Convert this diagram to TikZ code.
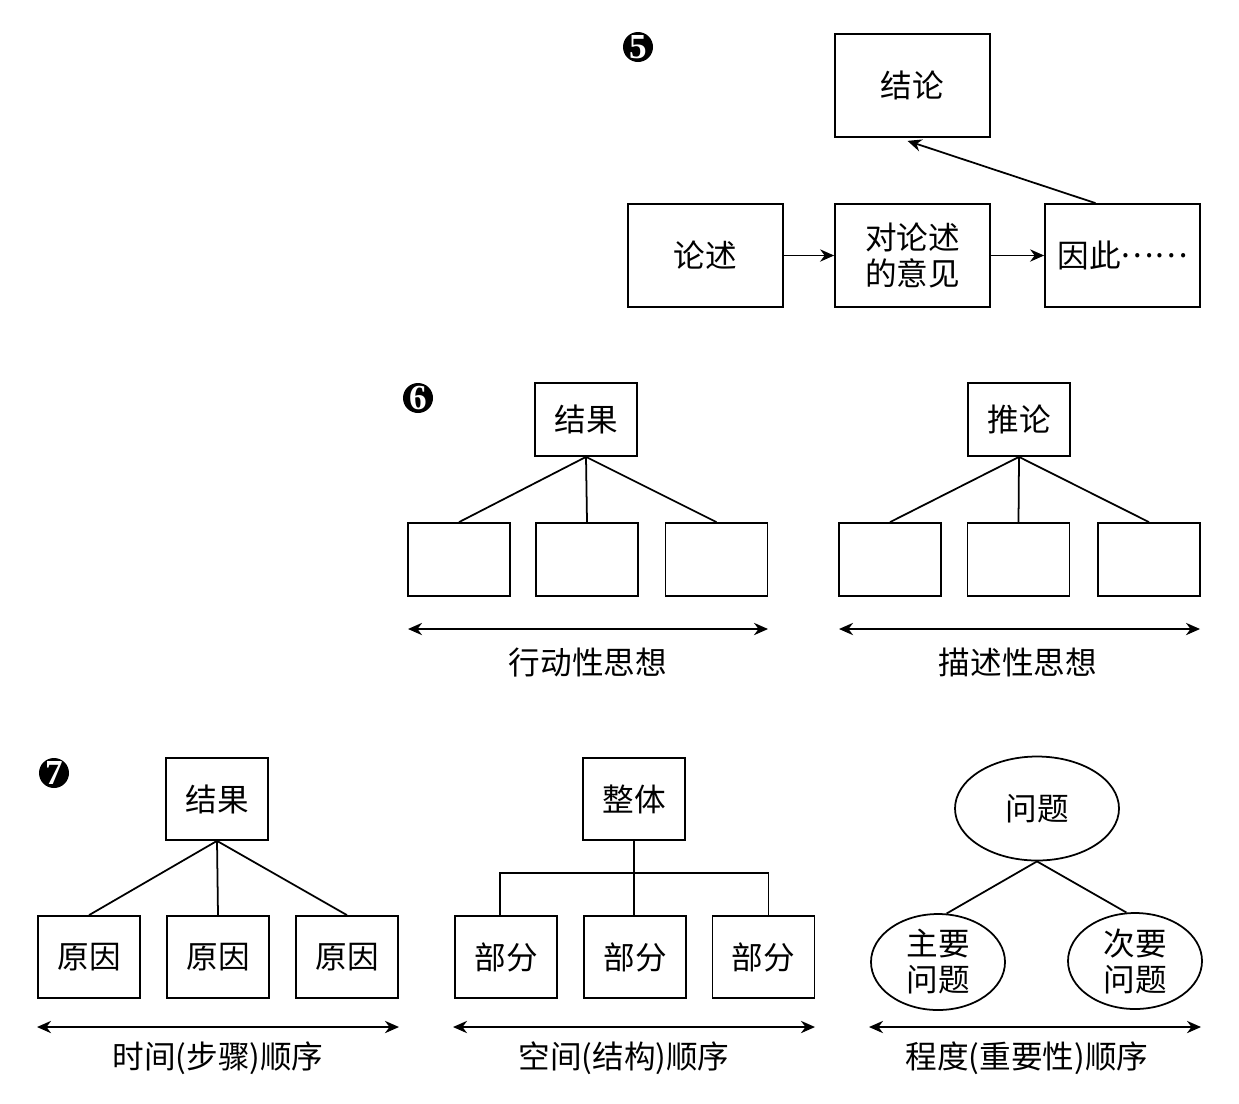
\documentclass[tikz,border=0pt]{standalone}
\usepackage{fontspec}
\newfontfamily\cjk{Noto Sans CJK SC}
\newfontfamily\numfont{Liberation Serif}
\usetikzlibrary{arrows.meta,shapes.geometric,calc}

\begin{document}
\begin{tikzpicture}[
  x=0.02cm, y=-0.02cm,
  line width=1pt,
  box/.style={
    draw, rectangle, inner sep=0pt, align=center,
    minimum width=155*\pxl, minimum height=103*\pxl,
    font=\cjk\fontsize{18}{20.5}\selectfont
  },
  minibox/.style={box, minimum width=102*\pxl, minimum height=73*\pxl},
  tallbox/.style={box, minimum width=102*\pxl, minimum height=82*\pxl},
  bubble/.style={
    draw, ellipse, inner sep=0pt, align=center,
    font=\cjk\fontsize{18}{20.5}\selectfont
  },
  marker/.style={
    circle, fill=black, text=white, inner sep=0pt,
    minimum size=30*\pxl, font=\numfont\bfseries\fontsize{20}{20}\selectfont
  },
  arr/.style={-{Stealth[length=8pt,width=7pt]}},
  darr/.style={{Stealth[length=8pt,width=7pt]}-{Stealth[length=8pt,width=7pt]}},
  lbl/.style={inner sep=0pt, font=\cjk\fontsize{18}{20.5}\selectfont},
]

\def\pxl{0.02cm}
\useasboundingbox (0,0) rectangle (1239,1103);

% 5
\node[marker] (m5) at (638,47) {5};
\node[box] (conclusion) at (912.5,85.5)  {结论};
\node[box] (argument)   at (705.5,255.5) {论述};
\node[box] (opinion)    at (912.5,255.5) {对论述\\的意见};
\node[box] (therefore)  at (1122.5,255.5) {因此\raisebox{0.32em}{……}};

\draw[arr] (argument) -- (opinion);
\draw[arr] (opinion)  -- (therefore);
\draw[arr] ($(therefore.north)+(-27,0)$) -- ($(conclusion.south)+(-5,3)$);

% 6
\node[marker] (m6) at (418,398) {6};
\node[minibox] (result6) at (586,419.5) {结果};
\node[minibox] (act1) at (459,559.5) {};
\node[minibox] (act2) at (587,559.5) {};
\node[minibox] (act3) at (716.5,559.5) {};
\foreach \k in {1,2,3}
  \draw (result6.south) -- (act\k.north);
\coordinate (actL) at (408,629);
\coordinate (actR) at (768,629);
\draw[darr] (actL) -- (actR);
\node[lbl] (actlbl) at (588,662) {行动性思想};

\node[minibox] (infer) at (1019,419.5) {推论};
\node[minibox] (desc1) at (890,559.5) {};
\node[minibox] (desc2) at (1018.5,559.5) {};
\node[minibox] (desc3) at (1149,559.5) {};
\foreach \k in {1,2,3}
  \draw (infer.south) -- (desc\k.north);
\coordinate (descL) at (839,629);
\coordinate (descR) at (1200,629);
\draw[darr] (descL) -- (descR);
\node[lbl] (desclbl) at (1018,662) {描述性思想};

% 7
\node[marker] (m7) at (54,773) {7};
\node[tallbox] (result7) at (217,799) {结果};
\node[tallbox] (cause1) at (89,957)  {原因};
\node[tallbox] (cause2) at (218,957) {原因};
\node[tallbox] (cause3) at (347,957) {原因};
\foreach \k in {1,2,3}
  \draw (result7.south) -- (cause\k.north);
\coordinate (timeL) at (37,1027);
\coordinate (timeR) at (399,1027);
\draw[darr] (timeL) -- (timeR);
\node[lbl] (timelbl) at (218,1058) {时间(步骤)顺序};

\node[tallbox] (whole) at (634,799) {整体};
\node[tallbox] (part1) at (506,957)   {部分};
\node[tallbox] (part2) at (635,957)   {部分};
\node[tallbox] (part3) at (763.5,957) {部分};
\draw (whole.south) -- (whole.south |- part2.north);
\draw ($(part1.north)+(-6,0)$) -- ++(0,-42) -| ($(part3.north)+(5,0)$);
\coordinate (spaceL) at (453,1027);
\coordinate (spaceR) at (815,1027);
\draw[darr] (spaceL) -- (spaceR);
\node[lbl] (spacelbl) at (624,1058) {空间(结构)顺序};

\node[bubble, minimum width=164*\pxl, minimum height=104*\pxl] (problem) at (1037,808.5) {问题};
\node[bubble, minimum width=134*\pxl, minimum height=96*\pxl] (major) at (938,962)  {主要\\问题};
\node[bubble, minimum width=134*\pxl, minimum height=96*\pxl] (minor) at (1135,961) {次要\\问题};
\draw (problem.south) -- (major.80);
\draw (problem.south) -- (minor.100);
\coordinate (degL) at (869,1027);
\coordinate (degR) at (1201,1027);
\draw[darr] (degL) -- (degR);
\node[lbl] (deglbl) at (1027,1058) {程度(重要性)顺序};

\end{tikzpicture}
\end{document}
